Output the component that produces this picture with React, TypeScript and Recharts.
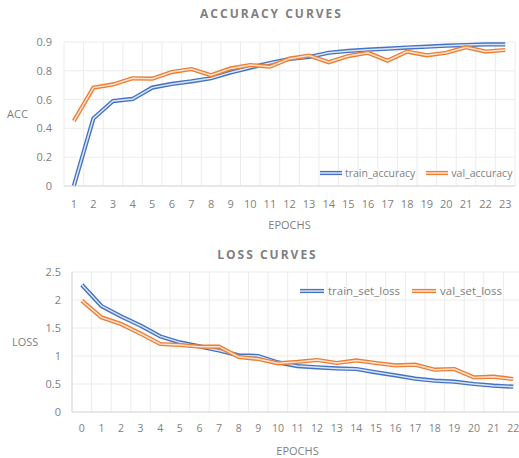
import React from 'react';
import { LineChart, Line, XAxis, YAxis, CartesianGrid, Legend, Label } from 'recharts';

// ---------- DATA ----------
const accEpochs = ['1', '2', '3', '4', '5', '6', '7', '8', '9', '10', '11', '12', '13', '14', '15', '16', '17', '18', '19', '20', '21', '22', '23'];
const trainAccuracy = [0.0, 0.423, 0.531, 0.544, 0.615, 0.638, 0.654, 0.673, 0.71, 0.74, 0.769, 0.794, 0.806, 0.833, 0.844, 0.852, 0.858, 0.865, 0.871, 0.877, 0.881, 0.885, 0.885];
const valAccuracy = [0.406, 0.615, 0.635, 0.673, 0.671, 0.712, 0.731, 0.692, 0.735, 0.756, 0.746, 0.796, 0.815, 0.773, 0.812, 0.833, 0.783, 0.84, 0.817, 0.833, 0.867, 0.84, 0.85];
const accTickValues = [0, 0.18, 0.36, 0.54, 0.72, 0.9];
const accTickLabels = ['0', '0.2', '0.4', '0.6', '0.8', '0.9'];

const lossEpochs = ['0', '1', '2', '3', '4', '5', '6', '7', '8', '9', '10', '11', '12', '13', '14', '15', '16', '17', '18', '19', '20', '21', '22'];
const trainSetLoss = [2.273, 1.893, 1.707, 1.541, 1.35, 1.243, 1.171, 1.1, 1.011, 1.0, 0.886, 0.82, 0.797, 0.779, 0.768, 0.708, 0.654, 0.595, 0.559, 0.541, 0.5, 0.47, 0.452];
const valSetLoss = [1.988, 1.69, 1.571, 1.398, 1.214, 1.196, 1.166, 1.166, 0.982, 0.946, 0.87, 0.895, 0.928, 0.875, 0.921, 0.875, 0.832, 0.845, 0.755, 0.768, 0.618, 0.63, 0.589];
const lossTicks = [0, 0.5, 1, 1.5, 2, 2.5];

// ---------- STYLE ----------
const BLUE = '#4472C4';
const BLUE_LIGHT = '#dce5f5';
const ORANGE = '#ED7D31';
const ORANGE_LIGHT = '#fbe3d3';
const FONT = '"Open Sans", "Noto Sans", sans-serif';
const TEXT = '#7f7f7f';
const GRID = '#ececec';
const AXIS = '#d9d9d9';

const accData = accEpochs.map((e, i) => ({ epoch: e, train_accuracy: trainAccuracy[i], val_accuracy: valAccuracy[i] }));
const lossData = lossEpochs.map((e, i) => ({ epoch: e, train_set_loss: trainSetLoss[i], val_set_loss: valSetLoss[i] }));

const bandGrid = (n: number) => (props: any) => {
  const { offset } = props;
  const out: number[] = [];
  for (let i = 0; i <= n; i++) out.push(offset.left + (i * offset.width) / n);
  return out;
};

const DoubleIcon = ({ color, light, w }: { color: string; light: string; w: number }) => (
  <svg width={w} height={6} style={{ display: 'block' }}>
    <line x1={0} y1={3} x2={w} y2={3} stroke={color} strokeWidth={4.2} />
    <line x1={0} y1={3} x2={w} y2={3} stroke={light} strokeWidth={1.5} />
  </svg>
);

const makeLegend = (items: { name: string; color: string; light: string }[], fontSize: number, iconW: number, textGap: number, itemGap: number) => () => (
  <div style={{ display: 'flex', alignItems: 'center', fontFamily: FONT, fontSize, color: TEXT, whiteSpace: 'nowrap', lineHeight: '16px' }}>
    {items.map((it, i) => (
      <div key={it.name} style={{ display: 'flex', alignItems: 'center', marginLeft: i === 0 ? 0 : itemGap }}>
        <DoubleIcon color={it.color} light={it.light} w={iconW} />
        <span style={{ marginLeft: textGap }}>{it.name}</span>
      </div>
    ))}
  </div>
);

const accLegend = makeLegend(
  [
    { name: 'train_accuracy', color: BLUE, light: BLUE_LIGHT },
    { name: 'val_accuracy', color: ORANGE, light: ORANGE_LIGHT },
  ],
  10.5, 22, 3, 11
);
const lossLegend = makeLegend(
  [
    { name: 'train_set_loss', color: BLUE, light: BLUE_LIGHT },
    { name: 'val_set_loss', color: ORANGE, light: ORANGE_LIGHT },
  ],
  11.5, 24, 4, 12
);

const titleStyle = (top: number, width: number): React.CSSProperties => ({
  position: 'absolute',
  top,
  left: 0,
  width,
  textAlign: 'center',
  fontFamily: FONT,
  fontWeight: 700,
  fontSize: 12,
  letterSpacing: '2px',
  color: TEXT,
  lineHeight: '16px',
});

const tickStyle = (fontSize: number) => ({ fill: TEXT, fontSize, fontFamily: FONT });

export default function App() {
  return (
    <div style={{ position: 'absolute', left: 0, top: 0, width: 519, height: 458, overflow: 'hidden', background: '#fff' }}>
      <div style={titleStyle(6, 543)}>ACCURACY CURVES</div>
      <div style={{ position: 'absolute', left: 0, top: 0 }}>
        <LineChart width={519} height={240} data={accData} margin={{ top: 42, right: 4, left: 0, bottom: 0 }}>
          <CartesianGrid stroke={GRID} verticalCoordinatesGenerator={bandGrid(accEpochs.length)} />
          <XAxis dataKey="epoch" scale="band" interval={0} height={54} tickLine={false} tickSize={0} tickMargin={14}
            axisLine={{ stroke: AXIS }} tick={tickStyle(11)}>
            <Label value="EPOCHS" position="insideBottom" offset={11} style={{ fill: TEXT, fontSize: 11, fontFamily: FONT }} />
          </XAxis>
          <YAxis type="number" domain={[0, 0.9]} ticks={accTickValues} width={64} tickLine={false} tickSize={0} tickMargin={12}
            axisLine={false} tick={tickStyle(11)} tickFormatter={(v: number) => accTickLabels[accTickValues.indexOf(v)] ?? String(v)}>
            <Label value="ACC" position="insideLeft" offset={7} style={{ fill: TEXT, fontSize: 11, fontFamily: FONT }} />
          </YAxis>
          <Legend layout="horizontal" verticalAlign="middle" align="center" content={accLegend}
            wrapperStyle={{ left: 320, top: 165, width: 'auto', right: 'auto', bottom: 'auto' }} />
          <Line type="linear" dataKey="train_accuracy" stroke={BLUE} strokeWidth={4.2} dot={false} activeDot={false} isAnimationActive={false} />
          <Line type="linear" dataKey="train_accuracy" stroke={BLUE_LIGHT} strokeWidth={1.5} dot={false} activeDot={false} legendType="none" isAnimationActive={false} />
          <Line type="linear" dataKey="val_accuracy" stroke={ORANGE} strokeWidth={4.2} dot={false} activeDot={false} isAnimationActive={false} />
          <Line type="linear" dataKey="val_accuracy" stroke={ORANGE_LIGHT} strokeWidth={1.5} dot={false} activeDot={false} legendType="none" isAnimationActive={false} />
        </LineChart>
      </div>

      <div style={titleStyle(247, 535)}>LOSS CURVES</div>
      <div style={{ position: 'absolute', left: 0, top: 240 }}>
        <LineChart width={527} height={218} data={lossData} margin={{ top: 32, right: 4, left: 0, bottom: 0 }}>
          <CartesianGrid stroke={GRID} verticalCoordinatesGenerator={bandGrid(lossEpochs.length)} />
          <XAxis dataKey="epoch" scale="band" interval={0} height={46} tickLine={false} tickSize={0} tickMargin={13}
            axisLine={{ stroke: AXIS }} tick={tickStyle(10.5)}>
            <Label value="EPOCHS" position="insideBottom" offset={3} style={{ fill: TEXT, fontSize: 11, fontFamily: FONT }} />
          </XAxis>
          <YAxis type="number" domain={[0, 2.5]} ticks={lossTicks} width={72} tickLine={false} tickSize={0} tickMargin={11}
            axisLine={{ stroke: AXIS }} tick={tickStyle(11)}>
            <Label value="LOSS" position="insideLeft" offset={12} style={{ fill: TEXT, fontSize: 11, fontFamily: FONT }} />
          </YAxis>
          <Legend layout="horizontal" verticalAlign="middle" align="center" content={lossLegend}
            wrapperStyle={{ left: 300, top: 43, width: 'auto', right: 'auto', bottom: 'auto' }} />
          <Line type="linear" dataKey="train_set_loss" stroke={BLUE} strokeWidth={4.2} dot={false} activeDot={false} isAnimationActive={false} />
          <Line type="linear" dataKey="train_set_loss" stroke={BLUE_LIGHT} strokeWidth={1.5} dot={false} activeDot={false} legendType="none" isAnimationActive={false} />
          <Line type="linear" dataKey="val_set_loss" stroke={ORANGE} strokeWidth={4.2} dot={false} activeDot={false} isAnimationActive={false} />
          <Line type="linear" dataKey="val_set_loss" stroke={ORANGE_LIGHT} strokeWidth={1.5} dot={false} activeDot={false} legendType="none" isAnimationActive={false} />
        </LineChart>
      </div>
    </div>
  );
}
